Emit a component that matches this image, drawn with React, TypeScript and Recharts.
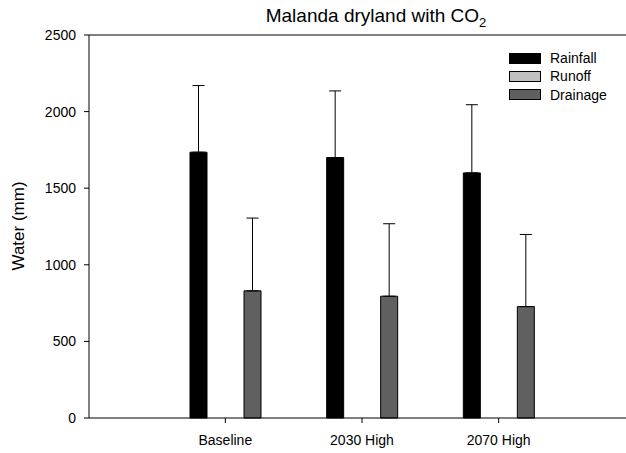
import { BarChart, Bar, XAxis, YAxis, ErrorBar, Legend, ReferenceLine } from 'recharts';

const categories = ['Baseline', '2030 High', '2070 High'];
const rainfall = [1735, 1700, 1600];
const rainfallErr = [435, 435, 445];
const runoff = [0, 0, 0];
const drainage = [830, 795, 727];
const drainageErr = [475, 473, 471];
const yTicks = [0, 500, 1000, 1500, 2000, 2500];
const seriesOrder = ['Rainfall', 'Runoff', 'Drainage'];

const data = categories.map((name, i) => ({
  name,
  rainfall: rainfall[i],
  rainfallErr: [0, rainfallErr[i]],
  runoff: runoff[i],
  drainage: drainage[i],
  drainageErr: [0, drainageErr[i]],
}));

const FONT = '"Liberation Sans", Arial, Helvetica, sans-serif';

function LegendBox({ payload }: any) {
  const items = [...(payload || [])].sort(
    (a: any, b: any) => seriesOrder.indexOf(a.value) - seriesOrder.indexOf(b.value)
  );
  return (
    <div style={{ fontFamily: FONT, fontSize: 14, color: '#000' }}>
      {items.map((p: any) => (
        <div key={p.value} style={{ display: 'flex', alignItems: 'center', height: 18.3 }}>
          <span
            style={{
              display: 'inline-block',
              width: 32,
              height: 11,
              boxSizing: 'border-box',
              background: p.color,
              border: '1px solid #000',
              marginRight: 9,
            }}
          />
          <span>{p.value}</span>
        </div>
      ))}
    </div>
  );
}

export default function App() {
  return (
    <div
      style={{
        position: 'absolute',
        left: 0,
        top: 0,
        width: 626,
        height: 453,
        overflow: 'hidden',
        background: '#fff',
        fontFamily: FONT,
      }}
    >
      <div
        style={{
          position: 'absolute',
          left: 14,
          width: 724,
          top: 5,
          textAlign: 'center',
          fontSize: 19,
          color: '#000',
          zIndex: 1,
        }}
      >
        Malanda dryland with CO<sub style={{ fontSize: 13, verticalAlign: -5 }}>2</sub>
      </div>
      <BarChart
        width={720}
        height={453}
        data={data}
        margin={{ top: 35, right: 0, bottom: 5, left: 29 }}
        barSize={17}
        barGap={10}
        style={{ position: 'absolute', left: 0, top: 0 }}
      >
        <XAxis
          dataKey="name"
          height={30}
          padding={{ left: 68, right: 153 }}
          tickSize={5}
          tickMargin={12}
          axisLine={{ stroke: '#000' }}
          tickLine={{ stroke: '#000' }}
          tick={{ fill: '#000', fontSize: 14, fontFamily: FONT }}
        />
        <YAxis
          width={60}
          domain={[0, 2500]}
          ticks={yTicks}
          interval={0}
          tickSize={5}
          tickMargin={8}
          axisLine={{ stroke: '#000' }}
          tickLine={{ stroke: '#000' }}
          tick={{ fill: '#000', fontSize: 14, fontFamily: FONT }}
          label={() => (
            <text
              x={24}
              y={226}
              transform="rotate(-90 24 226)"
              textAnchor="middle"
              fontSize={17}
              fontFamily={FONT}
              fill="#000"
            >
              Water (mm)
            </text>
          )}
        />
        <ReferenceLine y={2500} stroke="#000" />
        <Legend
          layout="vertical"
          align="center"
          verticalAlign="middle"
          content={<LegendBox />}
          wrapperStyle={{ left: 509, top: 49, width: 120 }}
        />
        <Bar dataKey="rainfall" name="Rainfall" fill="#000000" stroke="#000" isAnimationActive={false}>
          <ErrorBar dataKey="rainfallErr" width={6} stroke="#000" strokeWidth={1} />
        </Bar>
        <Bar dataKey="runoff" name="Runoff" fill="#c0c0c0" stroke="#000" isAnimationActive={false} />
        <Bar dataKey="drainage" name="Drainage" fill="#606060" stroke="#000" isAnimationActive={false}>
          <ErrorBar dataKey="drainageErr" width={6} stroke="#000" strokeWidth={1} />
        </Bar>
      </BarChart>
    </div>
  );
}
